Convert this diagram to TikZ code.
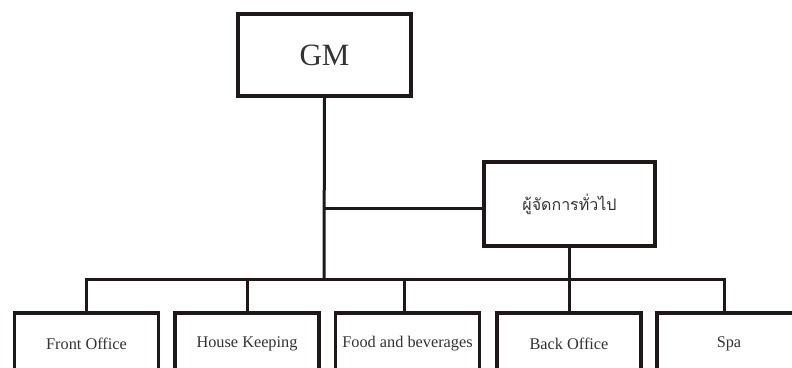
\documentclass[tikz,border=0pt]{standalone}
\usepackage{fontspec}
\setmainfont{Liberation Serif}
\newfontfamily\thaifont[Script=Thai]{Loma}
\definecolor{ink}{HTML}{1E1818}
\definecolor{txt}{HTML}{333333}
\begin{document}
\begin{tikzpicture}[x=1pt,y=-1pt,
  box/.style={draw=ink,line width=3.5pt,fill=white,inner sep=0pt,text=txt},
  dept/.style={box,minimum width=144pt,minimum height=62pt,font=\fontsize{16.3}{18}\selectfont},
  conn/.style={draw=ink,line width=3pt}]
\useasboundingbox (0,0) rectangle (792,367);
\clip (0,0) rectangle (792,367);
\fill[white] (0,0) rectangle (792,367);
% top boxes
\node[box,minimum width=173pt,minimum height=82pt,font=\fontsize{31}{33}\selectfont] (gm) at (324.5,55) {GM};
\node[box,minimum width=171pt,minimum height=84pt,font=\thaifont\fontsize{16}{18}\selectfont] (gen) at (569.5,204) {ผู้จัดการทั่วไป};
% departments
\node[dept] (fo) at (86.5,344) {Front Office};
\node[dept] (hk) at (247,344) {House Keeping};
\node[dept] (fb) at (407.5,344) {Food and beverages};
\node[dept] (bo) at (569,344) {Back Office};
\node[dept] (spa) at (729,344) {Spa};
% connectors
\coordinate (bus) at (324,279);
\coordinate (busL) at (86,279);
\coordinate (busR) at (724,279);
\coordinate (j) at (324,208);
\draw[conn] (gm.south) -- (bus);
\draw[conn] (j) -- (gen.west |- j);
\draw[conn] (gen.south) -- (gen.south |- bus);
\draw[conn,line cap=rect] (busL) -- (busR);
\draw[conn] (busL) -- (busL |- fo.north);
\draw[conn] (hk.north |- bus) -- (hk.north);
\draw[conn] (404,279) -- (404,313);
\draw[conn] (bo.north |- bus) -- (bo.north);
\draw[conn] (busR) -- (busR |- spa.north);
\end{tikzpicture}
\end{document}
